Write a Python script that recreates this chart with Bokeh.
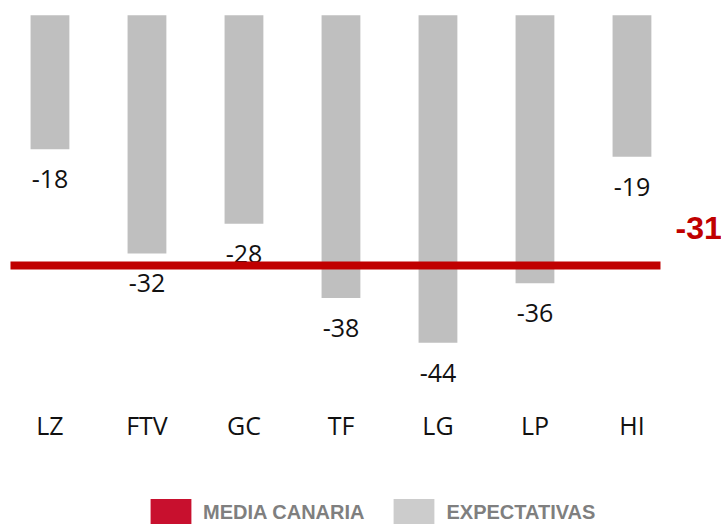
from bokeh.plotting import figure
from bokeh.models import Range1d, Legend, LegendItem, Label, ColumnDataSource
from bokeh.core.properties import value
from bokeh.embed import file_html
from bokeh.resources import INLINE

# ---- data ----
categories = ["LZ", "FTV", "GC", "TF", "LG", "LP", "HI"]
expectativas = [-18, -32, -28, -38, -44, -36, -19]
media_canaria = -31

BAR_COLOR = "#BFBFBF"
LINE_COLOR = "#C00000"
LEG_RED = "#C8102E"
LEG_GRAY = "#CCCCCC"
TXT_FONT = "Open Sans"
TXT_COLOR = "#111111"
CAT_LABEL_Y = -55.1   # layout: where the category labels sit

xs = list(range(len(categories)))
labels = [str(v) for v in expectativas]
src = ColumnDataSource(dict(x=xs, y=expectativas, lab=labels))
cat_src = ColumnDataSource(dict(x=xs, cat=categories))

p = figure(width=721, height=524, output_backend="svg", toolbar_location=None,
           x_range=Range1d(-0.510, 6.923), y_range=Range1d(-68.41, 1.974),
           x_axis_location=None, y_axis_location=None,
           min_border_left=0, min_border_right=0,
           min_border_top=0, min_border_bottom=0)
p.extra_y_ranges = {"media": Range1d(-65.79, 4.594)}
p.outline_line_color = None
p.grid.visible = False
p.background_fill_color = "white"
p.border_fill_color = "white"

p.vbar(x="x", top=0, bottom="y", width=0.40, source=src,
       fill_color=BAR_COLOR, line_color=None)

p.text(x="x", y="y", text="lab", source=src, y_offset=30,
       text_align="center", text_baseline="middle",
       text_font=value(TXT_FONT), text_font_size="25px", text_color=TXT_COLOR)

p.line(x=[-0.407, 6.294], y=[media_canaria, media_canaria], y_range_name="media",
       line_color=LINE_COLOR, line_width=8, line_cap="butt")

p.add_layout(Label(x=6.45, y=media_canaria, y_range_name="media", text=str(media_canaria),
                   y_offset=37, text_align="left", text_baseline="middle",
                   text_font="Liberation Sans", text_font_style="bold",
                   text_font_size="32px", text_color=LINE_COLOR))

# category labels (x axis)
p.text(x="x", y=CAT_LABEL_Y, text="cat", source=cat_src,
       text_align="center", text_baseline="middle",
       text_font=value(TXT_FONT), text_font_size="25px", text_color=TXT_COLOR)

# legend swatches (placeholder renderers with no visible marks)
nan = float("nan")
r_red = p.vbar(x=[nan], top=[nan], bottom=[nan], width=0.4,
               fill_color=LEG_RED, line_color=None)
r_gray = p.vbar(x=[nan], top=[nan], bottom=[nan], width=0.4,
                fill_color=LEG_GRAY, line_color=None)

legend = Legend(items=[LegendItem(label="MEDIA CANARIA", renderers=[r_red]),
                       LegendItem(label="EXPECTATIVAS", renderers=[r_gray])],
                location=(145, -5), orientation="horizontal",
                glyph_width=51, glyph_height=34, label_standoff=7, spacing=24,
                padding=0, margin=0, border_line_color=None,
                background_fill_alpha=0,
                label_text_font="Liberation Sans", label_text_font_style="bold",
                label_text_font_size="20px", label_text_color="#7F7F7F")
p.add_layout(legend, "center")

open("out.html", "w").write(file_html(p, INLINE))
